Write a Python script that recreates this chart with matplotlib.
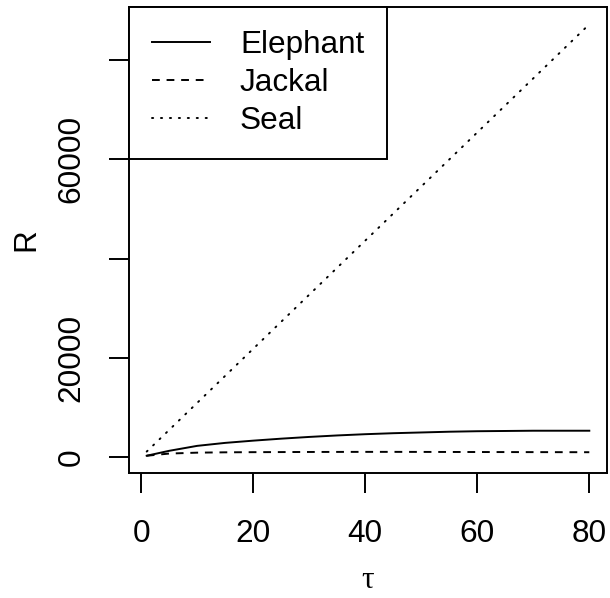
import numpy as np
import matplotlib.pyplot as plt

# values
tau = [1, 5, 10, 15, 20, 25, 30, 35, 40, 45, 50, 55, 60, 65, 70, 75, 80]
elephant = [260, 1250, 2250, 2850, 3300, 3700, 4050, 4350, 4600, 4800,
            4950, 5100, 5200, 5250, 5300, 5300, 5300]
jackal = [260, 700, 880, 950, 980, 1000, 1020, 1030, 1040, 1040,
          1030, 1020, 1010, 1000, 990, 980, 970]
seal = [1100, 5450, 10900, 16350, 21800, 27250, 32700, 38150, 43600, 49050,
        54500, 59950, 65400, 70850, 76300, 81750, 87200]
species = ['Elephant', 'Jackal', 'Seal']

xticks = [0, 20, 40, 60, 80]
yticks = [0, 20000, 40000, 60000, 80000]
yticklabels = ['0', '20000', '', '60000', '']

plt.rcParams['font.family'] = ['Liberation Sans', 'DejaVu Sans']
fs = 22.7
lw = 1.4

fig = plt.figure(figsize=(6.10, 5.98), dpi=100)
ax = fig.add_axes([129 / 610, 1 - 473 / 598, 478 / 610, 466 / 598])

ax.plot(tau, elephant, color='black', lw=lw, linestyle='-', label=species[0])
ax.plot(tau, jackal, color='black', lw=lw, linestyle=(0, (4, 3.5)), label=species[1])
ax.plot(tau, seal, color='black', lw=lw, linestyle=(0, (0.6, 4)),
        dash_capstyle='round', label=species[2])

# R style 4% padding
allx = np.array(tau, dtype=float)
ally = np.concatenate([elephant, jackal, seal]).astype(float)
dx = (allx.max() - allx.min()) * 0.04
dy = (ally.max() - ally.min()) * 0.04
ax.set_xlim(allx.min() - dx, allx.max() + dx)
ax.set_ylim(ally.min() - dy, ally.max() + dy)

ax.set_xticks(xticks)
ax.set_xticklabels([str(v) for v in xticks])
ax.set_yticks(yticks)
ax.set_yticklabels(yticklabels, rotation=90, va='center')
ax.tick_params(axis='both', direction='out', length=14.4, width=lw,
               labelsize=fs, color='black')
ax.tick_params(axis='x', pad=19)
ax.tick_params(axis='y', pad=16)
for s in ax.spines.values():
    s.set_linewidth(lw)

ax.set_ylabel('R', fontsize=fs, labelpad=11)
ax.set_xlabel('τ', fontsize=fs, family=['Liberation Serif', 'DejaVu Serif'],
              labelpad=12)

leg = ax.legend(loc='upper left', bbox_to_anchor=(0, 1), borderaxespad=0,
                fontsize=fs, frameon=True, fancybox=False, framealpha=1,
                edgecolor='black', handlelength=1.84, handletextpad=0.95,
                labelspacing=0.25, borderpad=0.73)
leg.get_frame().set_linewidth(lw)

fig.savefig('out.png', dpi=100)
